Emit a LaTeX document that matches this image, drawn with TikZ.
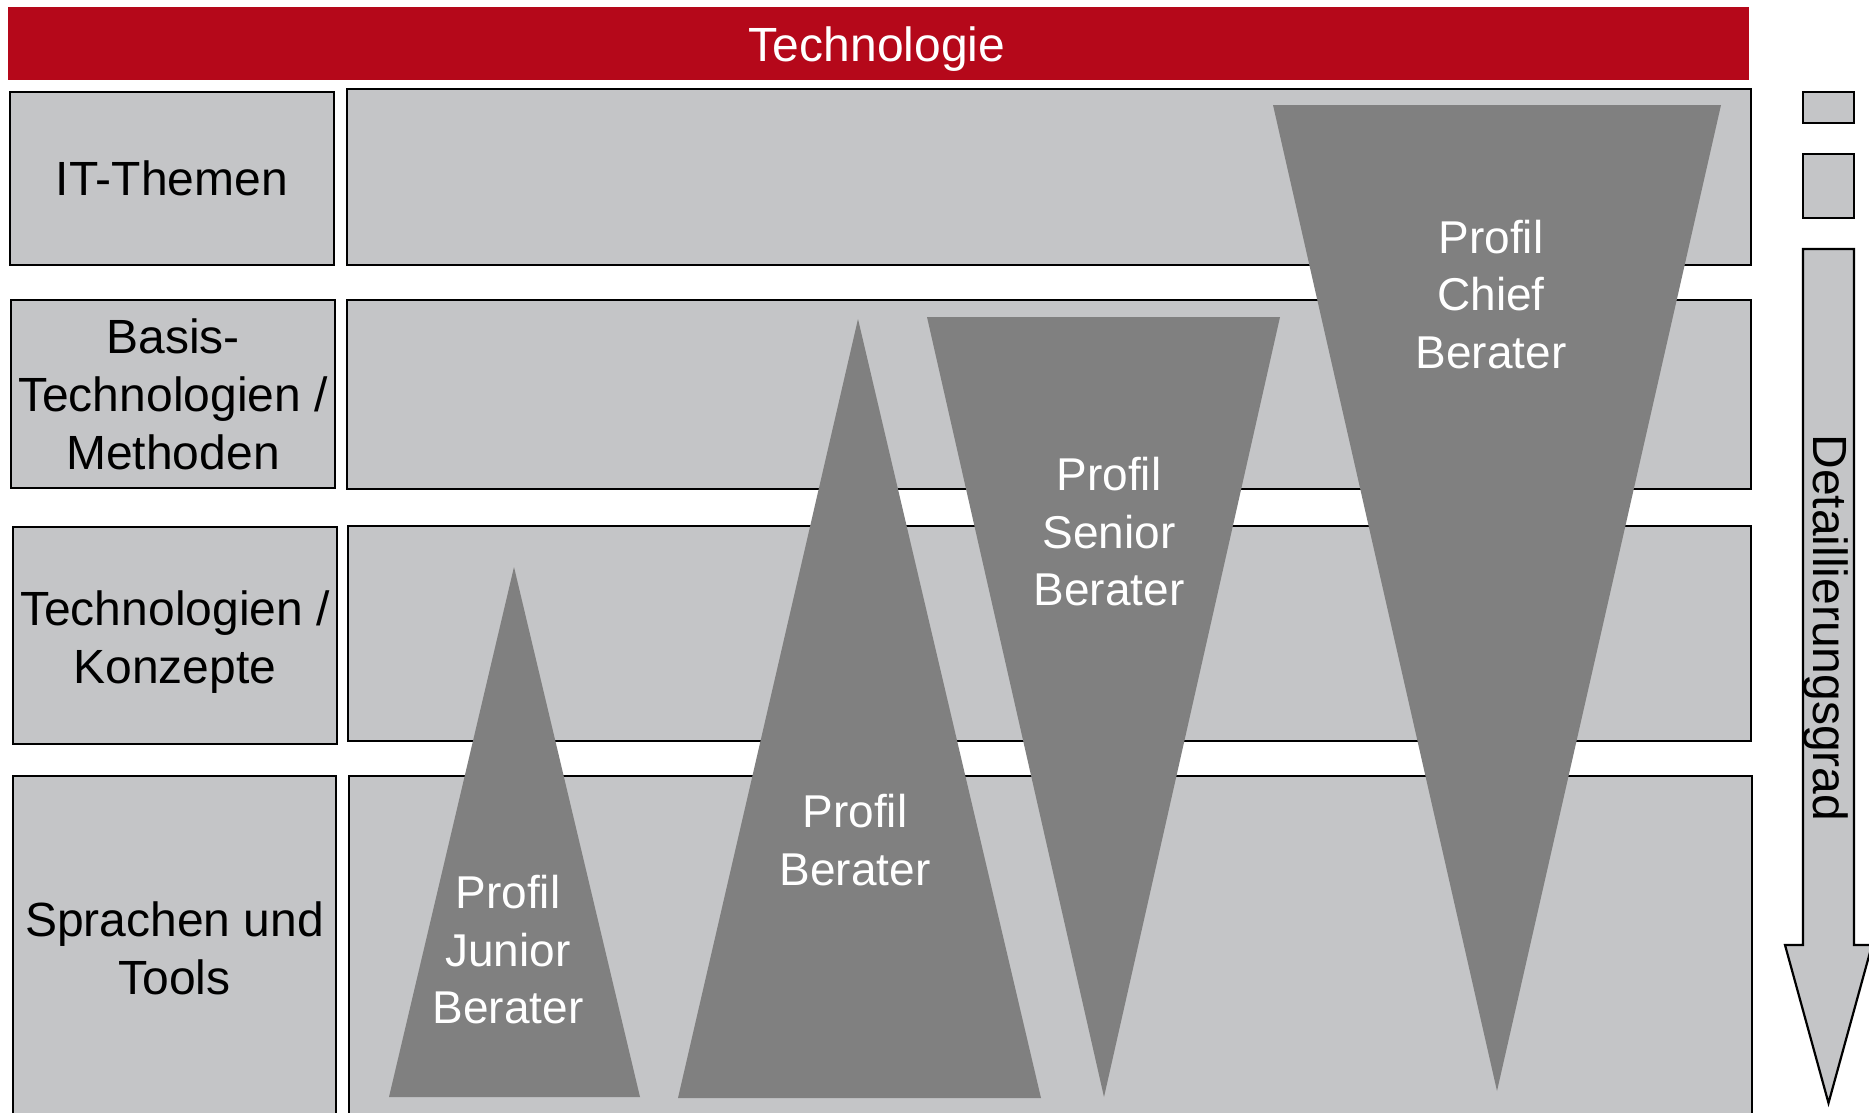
\documentclass[tikz,border=0pt]{standalone}
\usepackage{fontspec}
\setmainfont{Liberation Sans}
\definecolor{techred}{RGB}{181,8,26}
\definecolor{boxgray}{RGB}{196,197,199}
\definecolor{profgray}{RGB}{128,128,128}
\tikzset{
  rowbox/.style={draw=black, line width=2.2pt, fill=boxgray, inner sep=0pt, align=center,
    font=\fontsize{48}{58}\selectfont},
  labeltext/.style={inner sep=0pt, align=center, font=\fontsize{48}{58}\selectfont},
  proftext/.style={text=white, inner sep=0pt, align=center, font=\fontsize{46}{57.5}\selectfont},
  profshape/.style={fill=profgray},
  sidebox/.style={draw=black, line width=2.2pt, fill=boxgray}
}
\begin{document}
\begin{tikzpicture}[x=1pt,y=-1pt]
\clip (0,0) rectangle (1869,1112);
\fill[white] (0,0) rectangle (1869,1112);
% header
\node[fill=techred, inner sep=0pt, minimum width=1741pt, minimum height=73pt] (head) at (878.5,43.5) {};
\node[labeltext, text=white] (headtxt) at (877,49) {Technologie};
% row 1
\node[rowbox, minimum width=324pt, minimum height=173pt] (l1) at (172,178.5) {IT-Themen};
\node[rowbox, minimum width=1404pt, minimum height=176pt] (r1) at (1049,177) {};
% row 2
\node[rowbox, minimum width=324pt, minimum height=188pt] (l2) at (173,394) {Basis-\\Technologien /\\Methoden};
\node[rowbox, minimum width=1404pt, minimum height=189pt] (r2) at (1049,394.5) {};
% row 3
\node[rowbox, minimum width=324pt, minimum height=217pt] (l3) at (175,635.5) {};
\node[labeltext] (l3txt) at (175,642.5) {Technologien /\\Konzepte};
\node[rowbox, minimum width=1403pt, minimum height=215pt] (r3) at (1049.5,633.5) {};
% row 4
\node[rowbox, minimum width=323pt, minimum height=344pt] (l4) at (174.5,948) {Sprachen und\\Tools};
\node[rowbox, minimum width=1403pt, minimum height=344pt] (r4) at (1050.5,948) {};
% profile shapes
\fill[profshape] (389,1097) -- (514,567) -- (640,1097) -- cycle;
\fill[profshape] (678,1098) -- (858,319) -- (1041,1098) -- cycle;
\fill[profshape] (927,317) -- (1280,317) -- (1104,1097) -- cycle;
\fill[profshape] (1273,105) -- (1721,105) -- (1497,1091) -- cycle;
\node[proftext] (pj) at (508,950) {Profil\\Junior\\Berater};
\node[proftext] (pb) at (855,840) {Profil\\Berater};
\node[proftext] (ps) at (1109,532) {Profil\\Senior\\Berater};
\node[proftext] (pc) at (1491,294.5) {Profil\\Chief\\Berater};
% side indicator
\node[sidebox, inner sep=0pt, minimum width=51pt, minimum height=31pt] (s1) at (1828.5,107.5) {};
\node[sidebox, inner sep=0pt, minimum width=51pt, minimum height=64pt] (s2) at (1828.5,186) {};
\draw[sidebox, line join=miter] (1803,249) -- (1854,249) -- (1854,945) -- (1872,945)
  -- (1828.5,1103) -- (1785,945) -- (1803,945) -- cycle;
\node[rotate=-90, inner sep=0pt, font=\fontsize{48}{58}\selectfont] (dg) at (1826,628) {Detaillierungsgrad};
\end{tikzpicture}
\end{document}
